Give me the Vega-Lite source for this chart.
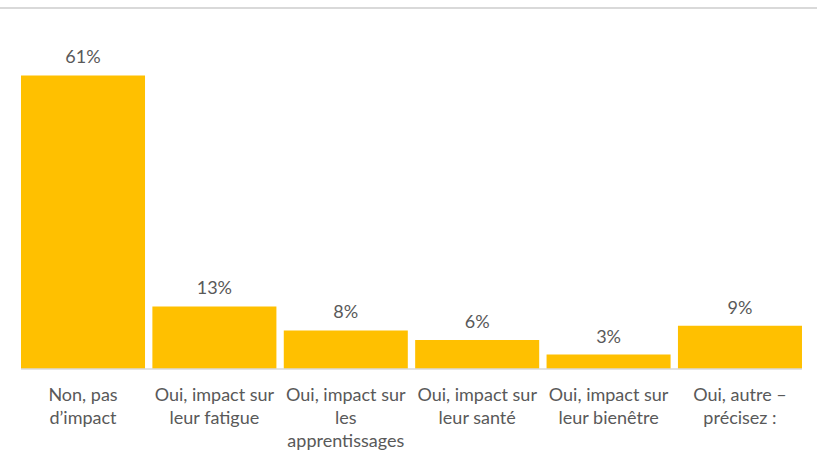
{
  "$schema": "https://vega.github.io/schema/vega-lite/v6.json",
  "width": 817,
  "height": 361,
  "autosize": {"type": "none"},
  "padding": {"left": 0, "top": 8, "right": 0, "bottom": 90},
  "config": {"view": {"stroke": null}, "font": "Lato"},
  "layer": [
    {
      "data": {"values": [
        {"cat": "Non, pas|d’impact", "pct": 0.61},
        {"cat": "Oui, impact sur|leur fatigue", "pct": 0.13},
        {"cat": "Oui, impact sur|les|apprentissages", "pct": 0.08},
        {"cat": "Oui, impact sur|leur santé", "pct": 0.06},
        {"cat": "Oui, impact sur|leur bienêtre", "pct": 0.03},
        {"cat": "Oui, autre –|précisez :", "pct": 0.09}
      ]},
      "layer": [
        {
          "mark": {"type": "bar", "color": "#FFC000"},
          "encoding": {
            "x": {"field": "cat", "type": "nominal",
              "scale": {"domain": ["Non, pas|d’impact", "Oui, impact sur|leur fatigue", "Oui, impact sur|les|apprentissages", "Oui, impact sur|leur santé", "Oui, impact sur|leur bienêtre", "Oui, autre –|précisez :"], "paddingInner": 0.056, "paddingOuter": 0.137, "align": 0.583},
              "axis": {"title": null, "domain": false, "ticks": false, "labelAngle": 0, "labelExpr": "split(datum.label, '|')", "labelFontSize": 18, "labelColor": "#595959", "labelPadding": 17, "labelBaseline": "top", "labelLineHeight": 23, "labelLimit": 300, "labelFont": "Lato"}},
            "y": {"field": "pct", "type": "quantitative", "scale": {"domain": [0, 0.75], "nice": false}, "axis": null}
          }
        },
        {
          "mark": {"type": "text", "color": "#595959", "fontSize": 18, "baseline": "alphabetic", "dy": -12, "font": "Lato"},
          "encoding": {
            "x": {"field": "cat", "type": "nominal"},
            "y": {"field": "pct", "type": "quantitative"},
            "text": {"field": "pct", "type": "quantitative", "format": ".0%"}
          }
        }
      ]
    },
    {
      "data": {"values": [{"a": "Non, pas|d’impact", "b": "Oui, autre –|précisez :", "v": 0}]},
      "mark": {"type": "rule", "color": "#D9D9D9", "strokeWidth": 1.5},
      "encoding": {
        "x": {"field": "a", "type": "nominal", "bandPosition": 0},
        "x2": {"field": "b", "bandPosition": 1},
        "y": {"field": "v", "type": "quantitative"}
      }
    },
    {
      "data": {"values": [{"v": 0.75}]},
      "mark": {"type": "rule", "color": "#D9D9D9", "strokeWidth": 2},
      "encoding": {
        "y": {"field": "v", "type": "quantitative"}
      }
    }
  ]
}
